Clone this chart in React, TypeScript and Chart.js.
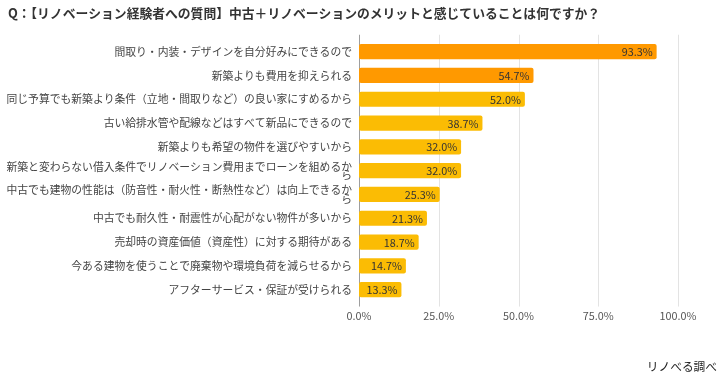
import React, { useEffect, useRef } from "react";
import { Chart, registerables } from "chart.js";

Chart.register(...registerables);

const TITLE = "Q：【リノベーション経験者への質問】中古＋リノベーションのメリットと感じていることは何ですか？";
const SOURCE = "リノべる調べ";

const categories: (string | string[])[] = [
  "間取り・内装・デザインを自分好みにできるので",
  "新築よりも費用を抑えられる",
  "同じ予算でも新築より条件（立地・間取りなど）の良い家にすめるから",
  "古い給排水管や配線などはすべて新品にできるので",
  "新築よりも希望の物件を選びやすいから",
  ["新築と変わらない借入条件でリノベーション費用までローンを組めるか", "ら"],
  ["中古でも建物の性能は（防音性・耐火性・断熱性など）は向上できるか", "ら"],
  "中古でも耐久性・耐震性が心配がない物件が多いから",
  "売却時の資産価値（資産性）に対する期待がある",
  "今ある建物を使うことで廃棄物や環境負荷を減らせるから",
  "アフターサービス・保証が受けられる",
];

const values = [93.3, 54.7, 52.0, 38.7, 32.0, 32.0, 25.3, 21.3, 18.7, 14.7, 13.3];

const xTicks = [0, 25, 50, 75, 100];

const ORANGE = "#FF9900";
const YELLOW = "#FBBC04";
const barColors = values.map((_, i) => (i < 2 ? ORANGE : YELLOW));

const FONT = "'Noto Sans CJK JP', 'Noto Sans', sans-serif";

export default function App() {
  const ref = useRef<HTMLCanvasElement | null>(null);

  useEffect(() => {
    document.body.style.margin = "0";
    const canvas = ref.current;
    if (!canvas) return;

    const decor = {
      id: "decor",
      beforeDatasetsDraw(chart: any) {
        const { ctx, chartArea } = chart;
        const x = chart.scales.x;
        ctx.save();
        ctx.lineWidth = 1;
        xTicks.forEach((v) => {
          const px = Math.round(x.getPixelForValue(v)) + 0.5;
          ctx.strokeStyle = v === 0 ? "#9e9e9e" : "#e3e3e3";
          ctx.beginPath();
          ctx.moveTo(px, chartArea.top - 5);
          ctx.lineTo(px, chartArea.bottom + 5);
          ctx.stroke();
        });
        ctx.restore();
      },
      afterDatasetsDraw(chart: any) {
        const { ctx } = chart;
        const meta = chart.getDatasetMeta(0);
        ctx.save();
        ctx.font = `10.8px ${FONT}`;
        ctx.fillStyle = "#333333";
        ctx.textAlign = "right";
        ctx.textBaseline = "middle";
        meta.data.forEach((bar: any, i: number) => {
          ctx.fillText(values[i].toFixed(1) + "%", bar.x - 4, bar.y + 0.5);
        });
        ctx.restore();
      },
      afterDraw(chart: any) {
        const { ctx, width } = chart;
        ctx.save();
        ctx.fillStyle = "#333333";
        ctx.font = `bold 12.8px ${FONT}`;
        ctx.textAlign = "left";
        ctx.textBaseline = "middle";
        ctx.fillText(TITLE, 8, 13);
        ctx.font = `11.7px ${FONT}`;
        ctx.textAlign = "right";
        ctx.fillStyle = "#222222";
        ctx.fillText(SOURCE, width - 4, 367);
        ctx.restore();
      },
    };

    const chart = new Chart(canvas, {
      type: "bar",
      data: {
        labels: categories,
        datasets: [
          {
            data: values,
            backgroundColor: barColors,
            borderRadius: 2,
            borderSkipped: false,
            barPercentage: 0.8,
            categoryPercentage: 0.8,
          },
        ],
      },
      options: {
        indexAxis: "y",
        responsive: false,
        animation: false,
        layout: { padding: { top: 39.75, bottom: 57.5, left: 0, right: 43 } },
        plugins: {
          legend: { display: false },
          title: { display: false },
          tooltip: { enabled: false },
        },
        scales: {
          x: {
            type: "linear",
            min: 0,
            max: 100,
            grid: { display: false, drawTicks: false },
            border: { display: false },
            ticks: {
              stepSize: 25,
              padding: 8,
              color: "#555555",
              font: { family: FONT, size: 10.8 },
              callback: (v: any) => Number(v).toFixed(1) + "%",
            },
          },
          y: {
            grid: { display: false, drawTicks: false },
            border: { display: false },
            afterFit: (scale: any) => {
              scale.width = 359;
            },
            ticks: {
              padding: 7,
              color: "#444444",
              autoSkip: false,
              font: { family: FONT, size: 10.8, lineHeight: 0.78 },
            },
          },
        },
      },
      plugins: [decor],
    } as any);

    return () => chart.destroy();
  }, []);

  return (
    <div style={{ position: "absolute", left: 0, top: 0, width: 721, height: 388 }}>
      <canvas ref={ref} width={721} height={388} />
    </div>
  );
}
